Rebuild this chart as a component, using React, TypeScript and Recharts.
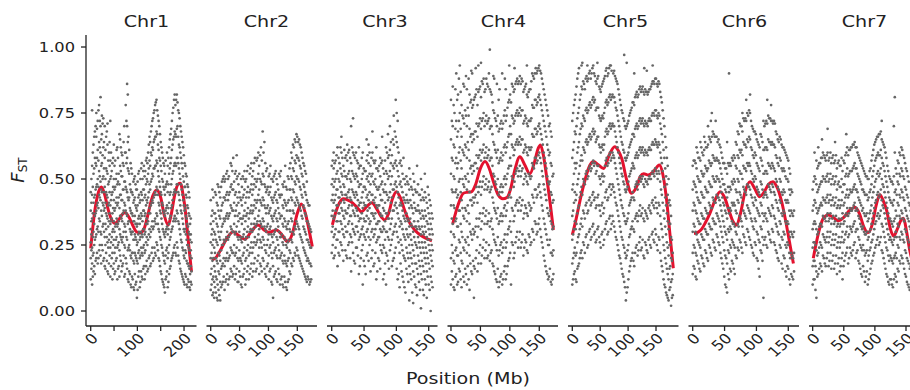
import React from 'react'
import { ComposedChart, Scatter, Line, XAxis, YAxis } from 'recharts'

// scatter columns: [position (Mb), FST values x100 ...]
const chr1Points = [
  [0, 12, 20, 26, 31, 38, 45], [3, 10, 18, 24, 35, 44, 55, 76], [6, 15, 22, 30, 41, 52, 63], [9, 14, 27, 36, 44, 58, 68],
  [12, 20, 29, 38, 47, 55, 66, 75], [15, 18, 32, 41, 50, 61, 72], [18, 23, 35, 44, 53, 64, 78], [21, 21, 30, 42, 49, 60, 70, 81],
  [24, 25, 36, 45, 56, 67, 74], [27, 19, 33, 40, 51, 62, 73], [30, 17, 28, 39, 47, 58, 70], [33, 22, 31, 37, 45, 54, 66],
  [36, 15, 26, 35, 43, 52, 63, 71], [39, 18, 27, 34, 41, 49, 60], [42, 13, 24, 33, 40, 50, 57, 72], [45, 20, 28, 35, 44, 53],
  [48, 16, 25, 31, 39, 47, 58], [51, 14, 22, 30, 38, 46, 55], [54, 19, 27, 33, 41, 50], [57, 12, 24, 32, 40, 48, 62],
  [60, 17, 26, 34, 43, 52], [63, 21, 29, 36, 44, 55, 65], [66, 15, 27, 35, 42, 51, 60], [69, 18, 28, 37, 46, 56],
  [72, 13, 25, 33, 41, 49, 70], [75, 20, 30, 38, 47, 60, 78], [78, 16, 27, 36, 45, 58, 70, 86], [81, 11, 24, 34, 42, 53, 66],
  [84, 14, 23, 31, 39, 48], [87, 9, 20, 29, 37, 45, 54], [90, 12, 22, 30, 36, 44], [93, 8, 18, 27, 34, 42, 50],
  [96, 10, 21, 28, 33, 40, 48], [99, 5, 19, 25, 32, 38, 46], [102, 13, 22, 29, 35, 43, 52], [105, 9, 20, 27, 33, 41],
  [108, 15, 24, 30, 37, 45, 54], [111, 12, 21, 28, 34, 42, 50], [114, 17, 25, 31, 38, 46, 55], [117, 14, 23, 30, 37, 44, 53],
  [120, 19, 28, 35, 42, 50, 58], [123, 16, 27, 34, 43, 52, 60], [126, 21, 31, 39, 48, 57, 66], [129, 18, 30, 40, 49, 60, 68],
  [132, 24, 34, 42, 52, 62, 72], [135, 20, 32, 43, 54, 64, 75], [138, 22, 35, 45, 55, 66, 78], [141, 26, 37, 47, 57, 68, 80],
  [144, 23, 33, 44, 53, 63, 74], [147, 19, 30, 40, 49, 58, 70], [150, 15, 27, 37, 45, 55, 64], [153, 12, 24, 33, 41, 50, 60],
  [156, 10, 21, 30, 38, 47, 56], [159, 7, 18, 28, 36, 44, 52], [162, 13, 23, 31, 39, 48], [165, 9, 20, 29, 37, 45, 55],
  [168, 14, 25, 33, 41, 52, 62], [171, 17, 28, 36, 45, 56, 67], [174, 20, 31, 40, 50, 61, 72], [177, 22, 34, 44, 53, 65, 77],
  [180, 25, 36, 46, 56, 68, 82], [183, 21, 35, 45, 55, 66, 80], [186, 24, 37, 48, 58, 70, 79], [189, 19, 33, 44, 54, 63, 75],
  [192, 16, 29, 40, 50, 60, 70], [195, 14, 26, 37, 46, 56, 66], [198, 12, 23, 33, 42, 51, 62], [201, 10, 20, 30, 38, 47, 56],
  [204, 13, 22, 29, 36, 44, 52], [207, 9, 18, 25, 33, 40, 48], [210, 11, 17, 24, 30, 37, 45], [213, 8, 14, 21, 27, 33],
  [216, 10, 15, 20, 26],
]
const chr1PointsB = [
  [1.5, 16, 23, 29, 34, 41, 50], [4.5, 13, 21, 28, 37, 47, 60], [7.5, 17, 25, 33, 43, 54, 66], [10.5, 19, 28, 37, 46, 56, 70],
  [13.5, 22, 31, 40, 48, 58, 69], [16.5, 20, 30, 39, 47, 57, 76], [19.5, 25, 34, 43, 51, 62, 72], [22.5, 18, 29, 38, 46, 55, 65],
  [25.5, 23, 32, 41, 50, 59, 71], [28.5, 20, 30, 38, 45, 54, 64], [31.5, 16, 25, 33, 41, 50, 61], [34.5, 19, 28, 36, 44, 53, 68],
  [37.5, 14, 24, 32, 40, 48, 57], [40.5, 21, 29, 37, 45, 55, 64], [43.5, 17, 26, 34, 42, 51, 60], [46.5, 12, 22, 30, 37, 45, 56],
  [49.5, 18, 27, 34, 42, 50, 63], [52.5, 15, 24, 32, 39, 47, 57], [55.5, 20, 28, 35, 43, 52, 61], [58.5, 16, 25, 33, 41, 49, 58],
  [61.5, 13, 23, 31, 39, 48, 67], [64.5, 19, 28, 36, 44, 53, 62], [67.5, 17, 26, 34, 42, 51, 59], [70.5, 21, 30, 38, 46, 55, 64],
  [73.5, 14, 24, 32, 40, 49, 60], [76.5, 18, 28, 37, 46, 56, 72], [79.5, 12, 23, 33, 43, 54, 64, 82], [82.5, 15, 25, 34, 43, 52, 61],
  [85.5, 10, 21, 30, 38, 46, 56], [88.5, 13, 22, 30, 37, 45, 52], [91.5, 9, 19, 27, 34, 41, 49], [94.5, 14, 22, 29, 36, 43, 51],
  [97.5, 11, 20, 27, 33, 39, 46], [100.5, 8, 18, 26, 33, 40, 49], [103.5, 15, 23, 30, 36, 44, 53], [106.5, 11, 21, 28, 35, 42, 50],
  [109.5, 13, 22, 29, 36, 44, 56], [112.5, 16, 24, 31, 38, 46, 53], [115.5, 12, 22, 29, 36, 43, 51], [118.5, 17, 26, 33, 40, 48, 57],
  [121.5, 15, 25, 33, 41, 49, 56], [124.5, 20, 29, 37, 45, 54, 63], [127.5, 17, 28, 37, 46, 55, 64], [130.5, 22, 32, 41, 50, 59, 70],
  [133.5, 19, 31, 41, 51, 61, 73], [136.5, 24, 34, 44, 54, 65, 76], [139.5, 21, 33, 44, 55, 66, 79], [142.5, 25, 36, 46, 56, 67, 76],
  [145.5, 20, 31, 41, 51, 61, 72], [148.5, 17, 28, 38, 47, 57, 67], [151.5, 14, 25, 35, 44, 53, 62], [154.5, 11, 22, 31, 40, 49, 58],
  [157.5, 9, 19, 29, 37, 46, 55], [160.5, 12, 21, 30, 38, 47, 57], [163.5, 15, 24, 32, 40, 49, 60], [166.5, 11, 22, 31, 39, 48, 58],
  [169.5, 16, 27, 35, 44, 54, 65], [172.5, 19, 30, 39, 48, 58, 69], [175.5, 21, 32, 42, 52, 63, 75], [178.5, 24, 35, 45, 55, 66, 80],
  [181.5, 22, 34, 45, 56, 67, 78], [184.5, 26, 38, 48, 58, 69, 82], [187.5, 21, 34, 45, 56, 66, 76], [190.5, 18, 31, 42, 52, 62, 73],
  [193.5, 15, 27, 38, 48, 58, 68], [196.5, 13, 24, 35, 44, 54, 64], [199.5, 11, 21, 31, 40, 49, 59], [202.5, 14, 23, 31, 39, 47, 55],
  [205.5, 10, 19, 27, 35, 43, 51], [208.5, 12, 18, 25, 32, 39, 47], [211.5, 9, 16, 23, 29, 36, 43], [214.5, 11, 17, 23, 29, 35],
]

const chr2Points = [
  [0, 8, 14, 20, 26, 33, 42], [3, 6, 12, 19, 25, 31, 38, 46], [6, 5, 11, 17, 24, 30, 37], [9, 7, 13, 20, 27, 35, 44],
  [12, 4, 10, 18, 25, 32, 40, 48], [15, 6, 14, 21, 28, 36, 45], [18, 9, 16, 23, 30, 38, 47], [21, 11, 18, 25, 33, 41, 50],
  [24, 8, 17, 26, 34, 43, 49], [27, 12, 20, 28, 36, 44, 52], [30, 10, 19, 27, 35, 42, 50], [33, 13, 21, 29, 37, 45],
  [36, 15, 23, 31, 39, 48, 55], [39, 14, 22, 30, 38, 46, 58], [42, 12, 21, 29, 36, 44, 52], [45, 16, 24, 32, 40, 50, 59],
  [48, 11, 19, 27, 34, 41, 48], [51, 13, 20, 28, 35, 43], [54, 9, 18, 26, 33, 40, 47], [57, 14, 22, 29, 36, 44, 50],
  [60, 10, 19, 27, 34, 41, 49], [63, 15, 23, 30, 37, 45, 53], [66, 12, 21, 28, 35, 43], [69, 16, 24, 31, 38, 46, 54],
  [72, 13, 22, 30, 37, 44, 51], [75, 18, 26, 33, 40, 48, 56], [78, 15, 25, 32, 39, 47], [81, 19, 27, 34, 42, 50, 58],
  [84, 14, 24, 31, 38, 46, 55], [87, 17, 26, 33, 41, 49, 62], [90, 20, 28, 35, 43, 52, 68], [93, 16, 25, 32, 40, 48, 64],
  [96, 13, 22, 30, 37, 45, 53], [99, 18, 27, 33, 40, 47], [102, 15, 24, 31, 38, 45, 52], [105, 11, 22, 29, 36, 43, 50],
  [108, 5, 17, 26, 34, 41, 49], [111, 14, 23, 30, 37, 44, 52], [114, 12, 21, 28, 35, 42, 50], [117, 16, 25, 32, 39, 46],
  [120, 10, 20, 28, 35, 43, 51], [123, 13, 22, 29, 36, 44], [126, 9, 18, 25, 32, 39, 47], [129, 11, 19, 27, 34, 41, 55],
  [132, 8, 17, 24, 31, 38, 46], [135, 12, 20, 27, 34, 42, 50], [138, 14, 22, 30, 38, 46, 56], [141, 17, 26, 34, 42, 50, 58],
  [144, 19, 29, 37, 45, 53, 62], [147, 21, 31, 40, 48, 56, 64], [150, 23, 33, 42, 50, 58, 66], [153, 20, 31, 40, 49, 57, 65],
  [156, 18, 28, 38, 46, 54, 62], [159, 16, 26, 35, 43, 51, 58], [162, 14, 23, 31, 39, 47, 55], [165, 12, 21, 29, 36, 44, 52],
  [168, 13, 20, 27, 34, 41], [171, 10, 18, 25, 32, 40], [174, 12, 17, 24, 30],
]
const chr2PointsB = [
  [1.5, 10, 16, 22, 29, 36], [4.5, 7, 13, 20, 27, 34, 43], [7.5, 9, 15, 22, 29, 37, 45], [10.5, 5, 12, 19, 26, 33, 41],
  [13.5, 8, 15, 22, 30, 38, 47], [16.5, 4, 11, 19, 27, 35, 43], [19.5, 10, 17, 25, 32, 40, 49], [22.5, 13, 20, 27, 35, 43, 51],
  [25.5, 11, 19, 27, 35, 42, 50], [28.5, 14, 22, 30, 37, 45, 53], [31.5, 12, 20, 28, 36, 44, 51], [34.5, 16, 24, 32, 40, 47, 56],
  [37.5, 13, 22, 30, 38, 46, 53], [40.5, 17, 25, 33, 41, 49], [43.5, 14, 22, 30, 38, 45, 53], [46.5, 11, 20, 28, 36, 43, 51],
  [49.5, 15, 23, 30, 37, 45, 52], [52.5, 10, 19, 27, 35, 42, 50], [55.5, 13, 21, 28, 35, 43, 51], [58.5, 16, 24, 31, 38, 46, 53],
  [61.5, 12, 20, 28, 36, 43, 50], [64.5, 17, 25, 32, 39, 47, 55], [67.5, 14, 22, 30, 37, 45, 52], [70.5, 18, 26, 33, 40, 48, 56],
  [73.5, 15, 24, 31, 38, 46, 53], [76.5, 20, 28, 35, 42, 50, 58], [79.5, 16, 26, 33, 41, 49, 57], [82.5, 21, 29, 36, 44, 52, 60],
  [85.5, 18, 27, 34, 42, 50, 59], [88.5, 15, 24, 32, 40, 48, 57], [91.5, 19, 27, 34, 42, 51, 60], [94.5, 14, 23, 31, 39, 47, 56],
  [97.5, 17, 25, 32, 39, 46, 54], [100.5, 12, 21, 29, 37, 44, 51], [103.5, 16, 25, 32, 39, 47, 55], [106.5, 10, 20, 28, 35, 42, 50],
  [109.5, 13, 22, 29, 36, 43, 51], [112.5, 15, 24, 31, 38, 45, 53], [115.5, 11, 20, 27, 34, 41, 48], [118.5, 14, 23, 30, 37, 44, 52],
  [121.5, 12, 21, 28, 36, 44, 53], [124.5, 10, 19, 26, 33, 40, 48], [127.5, 13, 21, 28, 35, 42, 49], [130.5, 9, 18, 25, 32, 40, 47],
  [133.5, 11, 19, 26, 33, 41, 51], [136.5, 15, 23, 31, 38, 46, 54], [139.5, 18, 27, 35, 43, 51, 60], [142.5, 20, 30, 38, 46, 54, 63],
  [145.5, 22, 32, 41, 49, 57, 65], [148.5, 24, 34, 43, 51, 59, 67], [151.5, 21, 32, 41, 50, 58, 64], [154.5, 19, 29, 39, 47, 55, 63],
  [157.5, 17, 27, 36, 44, 52, 60], [160.5, 15, 24, 32, 40, 48, 56], [163.5, 13, 22, 30, 37, 45, 53], [166.5, 11, 19, 27, 34, 42, 49],
  [169.5, 12, 19, 26, 33, 40], [172.5, 11, 18, 24, 31],
]

const chr3Points = [
  [0, 22, 30, 36, 42, 48, 55], [3, 20, 28, 35, 41, 47, 54, 60], [6, 24, 31, 38, 44, 50, 57], [9, 17, 27, 34, 40, 46, 53, 62],
  [12, 21, 30, 37, 43, 49, 56], [15, 25, 33, 39, 45, 52, 60, 66], [18, 19, 29, 36, 42, 48, 55], [21, 23, 32, 38, 44, 51, 58],
  [24, 20, 30, 37, 43, 50, 57, 63], [27, 26, 34, 40, 46, 53, 61], [30, 15, 28, 36, 42, 49, 56, 70], [33, 22, 31, 38, 45, 52, 60, 73],
  [36, 18, 29, 36, 43, 50, 58], [39, 24, 32, 38, 44, 51, 57], [42, 14, 27, 34, 40, 47, 54, 62], [45, 20, 29, 35, 41, 48, 55],
  [48, 10, 25, 32, 39, 45, 52, 60], [51, 17, 28, 34, 40, 47, 53], [54, 21, 30, 36, 43, 50, 57, 65], [57, 19, 28, 35, 42, 49, 56, 63],
  [60, 15, 27, 34, 41, 48, 55], [63, 23, 31, 37, 44, 52, 60, 68], [66, 18, 29, 35, 41, 48, 56], [69, 12, 26, 33, 40, 47, 54, 62],
  [72, 20, 28, 34, 40, 46, 53], [75, 16, 25, 31, 37, 44, 51, 58], [78, 22, 30, 36, 42, 49, 57, 66], [81, 14, 24, 31, 38, 45, 52],
  [84, 10, 22, 30, 37, 45, 53, 62], [87, 19, 28, 35, 42, 50, 58, 67], [90, 23, 31, 38, 45, 53, 61, 70], [93, 17, 27, 35, 43, 51, 59],
  [96, 20, 30, 38, 46, 54, 63, 74], [99, 24, 33, 41, 49, 57, 66, 80], [102, 12, 28, 37, 45, 53, 62, 72], [105, 9, 22, 32, 40, 48, 56],
  [108, 15, 25, 33, 40, 47, 55], [111, 11, 21, 29, 36, 43, 50, 58], [114, 7, 19, 27, 34, 41, 48], [117, 14, 22, 29, 35, 42, 49],
  [120, 4, 17, 25, 32, 39, 46, 54], [123, 12, 20, 27, 33, 40, 47], [126, 3, 15, 23, 30, 37, 44, 52], [129, 10, 18, 26, 32, 39, 46],
  [132, 6, 16, 24, 31, 38, 45, 55], [135, 11, 19, 26, 32, 38, 44], [138, 1, 14, 22, 29, 35, 42, 50], [141, 8, 17, 24, 30, 36, 43],
  [144, 12, 20, 26, 32, 38, 45, 52], [147, 5, 15, 22, 28, 34, 41], [150, 10, 18, 25, 31, 37, 44], [153, 0, 13, 21, 27, 33, 40],
  [156, 9, 17, 23, 29, 35],
]
const chr3PointsB = [
  [1.5, 25, 32, 38, 44, 50, 57], [4.5, 21, 29, 36, 42, 49, 56], [7.5, 27, 34, 40, 46, 52, 59], [10.5, 22, 30, 37, 43, 50, 58],
  [13.5, 26, 34, 41, 47, 54, 62], [16.5, 23, 31, 38, 44, 51, 58], [19.5, 28, 35, 41, 47, 53, 61], [22.5, 21, 30, 37, 44, 51, 59],
  [25.5, 25, 33, 39, 45, 52, 60], [28.5, 20, 29, 36, 43, 50, 58], [31.5, 26, 33, 40, 46, 53, 62], [34.5, 19, 30, 37, 44, 51, 59],
  [37.5, 24, 32, 39, 45, 52, 60], [40.5, 21, 30, 36, 42, 49, 56], [43.5, 17, 28, 35, 41, 48, 55], [46.5, 23, 31, 37, 43, 50, 58],
  [49.5, 19, 29, 35, 41, 47, 54], [52.5, 14, 27, 34, 40, 46, 53], [55.5, 22, 31, 38, 44, 51, 59], [58.5, 25, 33, 39, 45, 52, 60],
  [61.5, 20, 30, 37, 44, 51, 58], [64.5, 17, 28, 36, 42, 49, 57], [67.5, 22, 31, 37, 43, 50, 57], [70.5, 15, 27, 33, 39, 46, 54],
  [73.5, 19, 28, 34, 40, 47, 55], [76.5, 23, 30, 36, 42, 48, 56], [79.5, 12, 25, 32, 39, 46, 54], [82.5, 18, 27, 34, 41, 48, 57],
  [85.5, 21, 30, 37, 44, 52, 60], [88.5, 16, 27, 35, 43, 51, 59], [91.5, 25, 33, 41, 48, 56, 64], [94.5, 19, 29, 38, 46, 55, 65],
  [97.5, 22, 32, 40, 48, 56, 68], [100.5, 16, 30, 39, 47, 55, 64, 75], [103.5, 14, 26, 35, 43, 51, 60], [106.5, 18, 27, 34, 41, 49, 57],
  [109.5, 13, 23, 31, 38, 45, 52], [112.5, 9, 20, 28, 35, 42, 50], [115.5, 16, 24, 31, 37, 44, 51], [118.5, 11, 20, 28, 34, 41, 48],
  [121.5, 14, 22, 29, 35, 42, 50], [124.5, 7, 18, 25, 32, 39, 46], [127.5, 13, 21, 28, 34, 41, 49], [130.5, 9, 18, 25, 32, 38, 45],
  [133.5, 14, 21, 28, 34, 40, 48], [136.5, 8, 17, 24, 31, 37, 44], [139.5, 12, 19, 26, 32, 38, 46], [142.5, 6, 15, 22, 29, 35, 42],
  [145.5, 10, 18, 24, 30, 36, 43], [148.5, 13, 20, 27, 33, 39, 47], [151.5, 8, 16, 23, 29, 35, 42], [154.5, 11, 19, 25, 31, 37],
]

const chr4Points = [
  [0, 10, 20, 30, 40, 52, 65, 80], [3, 12, 22, 33, 45, 57, 70, 85], [6, 8, 18, 28, 39, 50, 62, 75], [9, 14, 24, 35, 46, 58, 72, 90],
  [12, 11, 21, 32, 44, 56, 68, 82], [15, 15, 26, 38, 50, 62, 75, 93], [18, 9, 19, 30, 42, 54, 66, 78], [21, 13, 24, 36, 48, 60, 73, 86],
  [24, 16, 27, 39, 51, 63, 76], [27, 10, 22, 34, 46, 58, 70, 84], [30, 12, 25, 37, 49, 61, 74, 88], [33, 18, 30, 42, 54, 66, 79],
  [36, 14, 27, 40, 52, 64, 77, 90], [39, 5, 17, 29, 41, 53, 65, 80], [42, 20, 32, 44, 56, 68, 82, 92], [45, 15, 28, 41, 54, 66, 78],
  [48, 22, 35, 47, 59, 71, 84], [51, 18, 31, 44, 57, 69, 81, 94], [54, 24, 37, 49, 61, 73, 86], [57, 20, 33, 46, 58, 70, 83],
  [60, 26, 38, 50, 62, 74, 88], [63, 21, 34, 47, 59, 72, 85], [66, 19, 32, 45, 57, 69, 84, 99], [69, 23, 35, 47, 58, 70, 82],
  [72, 17, 29, 41, 52, 64, 76, 89], [75, 14, 26, 38, 49, 61, 73], [78, 11, 23, 35, 46, 58, 70, 86], [81, 9, 21, 33, 44, 56, 68, 80],
  [84, 13, 25, 36, 47, 58, 71], [87, 10, 22, 34, 45, 57, 69, 90], [90, 15, 27, 39, 50, 62, 74], [93, 12, 24, 36, 48, 60, 72, 84],
  [96, 17, 29, 41, 52, 64, 77], [99, 20, 32, 44, 55, 67, 80, 93], [102, 10, 30, 43, 55, 67, 79], [105, 25, 38, 50, 62, 73, 85],
  [108, 22, 36, 49, 61, 72, 84, 92], [111, 28, 41, 53, 64, 75, 87], [114, 24, 38, 51, 63, 74, 86], [117, 30, 43, 55, 66, 77, 89],
  [120, 26, 40, 53, 65, 76, 88], [123, 21, 35, 48, 60, 71, 83], [126, 27, 40, 52, 63, 74, 85], [129, 23, 37, 49, 60, 71, 82, 93],
  [132, 29, 41, 52, 62, 72, 83], [135, 25, 38, 50, 61, 72, 84], [138, 31, 44, 56, 67, 78, 90], [141, 27, 41, 54, 66, 77, 88],
  [144, 33, 46, 58, 69, 80, 92], [147, 30, 44, 57, 68, 79, 91], [150, 35, 48, 60, 71, 82, 93], [153, 28, 43, 56, 67, 78, 90],
  [156, 24, 38, 51, 63, 74, 86], [159, 19, 33, 46, 58, 70, 82], [162, 15, 29, 42, 54, 66, 78], [165, 12, 25, 37, 49, 61, 74],
  [168, 16, 27, 38, 49, 60, 71], [171, 10, 22, 33, 44, 55, 66], [174, 14, 23, 32, 42, 52],
]
const chr4PointsB = [
  [1.5, 15, 25, 35, 46, 58, 72], [4.5, 9, 19, 29, 40, 51, 63, 78], [7.5, 13, 23, 34, 45, 56, 69, 84], [10.5, 10, 21, 32, 43, 54, 66, 80],
  [13.5, 16, 27, 38, 49, 60, 72, 88], [16.5, 12, 22, 33, 45, 57, 69, 83], [19.5, 18, 28, 39, 50, 61, 74], [22.5, 11, 23, 35, 47, 59, 71, 85],
  [25.5, 14, 26, 38, 50, 62, 74, 89], [28.5, 17, 28, 40, 52, 64, 77], [31.5, 8, 21, 33, 45, 57, 69, 82], [34.5, 15, 29, 42, 55, 67, 80, 91],
  [37.5, 19, 31, 43, 55, 67, 78], [40.5, 16, 30, 43, 56, 68, 81], [43.5, 23, 35, 47, 59, 71, 84], [46.5, 18, 32, 45, 58, 70, 83, 93],
  [49.5, 25, 37, 49, 61, 73, 85], [52.5, 21, 34, 47, 60, 72, 87], [55.5, 27, 39, 51, 63, 75, 88], [58.5, 23, 36, 48, 60, 72, 84],
  [61.5, 20, 33, 46, 58, 71, 86], [64.5, 25, 37, 49, 61, 73, 90], [67.5, 22, 34, 46, 58, 70, 83], [70.5, 18, 31, 43, 55, 67, 79],
  [73.5, 15, 27, 39, 51, 63, 75, 88], [76.5, 12, 25, 37, 48, 60, 72], [79.5, 16, 28, 39, 50, 61, 74], [82.5, 11, 23, 34, 45, 57, 69, 84],
  [85.5, 14, 26, 37, 48, 60, 72], [88.5, 12, 24, 36, 47, 59, 71], [91.5, 17, 29, 40, 51, 63, 76, 88], [94.5, 14, 26, 38, 50, 62, 74],
  [97.5, 19, 31, 43, 54, 66, 79], [100.5, 22, 34, 46, 58, 70, 82], [103.5, 26, 39, 51, 63, 74, 86], [106.5, 20, 34, 47, 59, 71, 83],
  [109.5, 26, 40, 52, 63, 74, 86], [112.5, 30, 42, 54, 65, 76, 88], [115.5, 27, 41, 53, 64, 75, 87], [118.5, 24, 38, 51, 63, 74, 86],
  [121.5, 29, 42, 54, 65, 76, 87], [124.5, 24, 37, 50, 61, 72, 84], [127.5, 26, 39, 51, 62, 73, 86], [130.5, 22, 36, 48, 59, 70, 81],
  [133.5, 28, 40, 51, 61, 72, 84], [136.5, 26, 39, 51, 62, 73, 87], [139.5, 30, 43, 55, 66, 77, 89], [142.5, 34, 46, 58, 69, 80, 90],
  [145.5, 29, 43, 56, 67, 78, 90], [148.5, 33, 47, 59, 70, 81, 92], [151.5, 31, 45, 58, 69, 80, 91], [154.5, 26, 40, 53, 65, 76, 88],
  [157.5, 21, 35, 48, 60, 72, 84], [160.5, 17, 31, 44, 56, 68, 80], [163.5, 14, 27, 39, 51, 63, 76], [166.5, 13, 25, 36, 48, 59, 70],
  [169.5, 11, 22, 34, 45, 56, 68], [172.5, 12, 21, 31, 41, 51],
]

const chr5Points = [
  [0, 10, 18, 27, 36, 46, 58, 72], [3, 14, 22, 31, 41, 52, 64, 78], [6, 12, 21, 31, 42, 54, 67, 82], [9, 16, 26, 37, 48, 60, 73, 88],
  [12, 18, 29, 40, 52, 64, 77, 92], [15, 22, 33, 45, 57, 69, 82], [18, 20, 32, 44, 57, 70, 84, 94], [21, 25, 37, 49, 61, 73, 86],
  [24, 28, 40, 52, 64, 76, 88], [27, 24, 37, 50, 63, 75, 87, 93], [30, 30, 42, 54, 66, 78, 90], [33, 27, 40, 53, 65, 77, 88],
  [36, 32, 44, 56, 68, 80, 92], [39, 29, 42, 55, 67, 79, 90], [42, 26, 39, 52, 64, 76, 87], [45, 31, 43, 55, 66, 77, 88, 94],
  [48, 28, 40, 51, 63, 74, 85], [51, 24, 36, 48, 60, 72, 83], [54, 30, 41, 52, 63, 74, 86], [57, 27, 39, 51, 63, 75, 88],
  [60, 33, 45, 57, 68, 79, 91], [63, 29, 42, 55, 67, 78, 89], [66, 35, 47, 59, 70, 81, 92], [69, 31, 44, 57, 69, 80, 93],
  [72, 36, 48, 60, 71, 82], [75, 32, 45, 58, 70, 81, 91], [78, 28, 41, 54, 66, 77, 88], [81, 25, 38, 50, 62, 74, 86],
  [84, 21, 34, 46, 58, 70, 82], [87, 18, 30, 42, 54, 66, 78], [90, 14, 27, 39, 51, 63, 75], [93, 11, 24, 36, 48, 60, 72, 97],
  [96, 4, 20, 33, 45, 57, 69], [99, 9, 23, 35, 47, 59, 71], [102, 15, 28, 40, 51, 62, 74], [105, 19, 31, 42, 53, 64, 76],
  [108, 22, 34, 45, 56, 67, 79], [111, 17, 30, 42, 54, 66, 78, 90], [114, 24, 36, 48, 59, 70, 82], [117, 21, 34, 46, 58, 69, 81],
  [120, 26, 38, 50, 61, 72, 84], [123, 23, 36, 49, 60, 71, 83], [126, 27, 39, 51, 62, 73, 85], [129, 20, 34, 47, 59, 70, 82, 92],
  [132, 25, 37, 49, 60, 71, 83], [135, 22, 35, 48, 59, 70, 82], [138, 28, 40, 51, 62, 73, 84], [141, 24, 37, 50, 61, 72, 85],
  [144, 30, 42, 53, 64, 75, 87, 93], [147, 26, 39, 51, 63, 74, 86], [150, 29, 41, 53, 64, 76, 88], [153, 23, 37, 50, 62, 73, 85],
  [156, 27, 40, 52, 63, 74, 86], [159, 19, 33, 46, 58, 69, 81], [162, 15, 28, 41, 53, 64, 76], [165, 10, 23, 35, 47, 58, 70],
  [168, 7, 18, 29, 40, 51, 62], [171, 5, 14, 24, 34, 44, 55], [174, 8, 16, 25, 33, 42], [177, 2, 11, 20, 28, 36],
  [180, 6, 14, 22],
]
const chr5PointsB = [
  [1.5, 12, 20, 29, 38, 48, 61, 75], [4.5, 15, 24, 34, 45, 56, 68, 80], [7.5, 11, 22, 33, 44, 56, 70, 85], [10.5, 17, 28, 39, 50, 62, 75, 90],
  [13.5, 20, 31, 43, 55, 67, 80], [16.5, 23, 35, 47, 59, 71, 85, 93], [19.5, 26, 38, 50, 62, 74, 87], [22.5, 22, 35, 48, 60, 72, 84],
  [25.5, 29, 41, 53, 65, 77, 89], [28.5, 25, 38, 51, 64, 76, 88], [31.5, 31, 43, 55, 67, 79, 91], [34.5, 28, 41, 54, 66, 78, 90],
  [37.5, 33, 45, 57, 69, 81, 93], [40.5, 30, 43, 56, 68, 80, 89], [43.5, 27, 40, 53, 65, 77, 86], [46.5, 32, 44, 55, 66, 77, 89],
  [49.5, 26, 38, 50, 62, 73, 84], [52.5, 29, 40, 51, 62, 73, 85], [55.5, 25, 37, 49, 61, 73, 87], [58.5, 31, 43, 55, 66, 77, 89],
  [61.5, 34, 46, 58, 69, 80, 92], [64.5, 30, 43, 56, 68, 79, 90], [67.5, 36, 48, 60, 71, 82, 93], [70.5, 33, 46, 58, 70, 81, 91],
  [73.5, 34, 47, 59, 70, 81, 90], [76.5, 30, 43, 56, 68, 79, 89], [79.5, 27, 40, 52, 64, 76, 87], [82.5, 23, 36, 48, 60, 72, 84],
  [85.5, 20, 32, 44, 56, 68, 80], [88.5, 16, 28, 40, 52, 64, 76], [91.5, 13, 25, 37, 49, 61, 73], [94.5, 9, 22, 34, 46, 58, 70],
  [97.5, 7, 21, 34, 46, 58, 70, 94], [100.5, 12, 25, 37, 49, 60, 72], [103.5, 17, 29, 41, 52, 63, 75], [106.5, 20, 32, 43, 54, 65, 77],
  [109.5, 19, 31, 43, 55, 67, 79], [112.5, 22, 35, 47, 58, 69, 81], [115.5, 25, 37, 49, 60, 71, 83], [118.5, 23, 36, 48, 59, 70, 82],
  [121.5, 28, 40, 51, 62, 73, 85], [124.5, 24, 37, 50, 61, 72, 84], [127.5, 21, 35, 48, 60, 71, 83], [130.5, 26, 38, 50, 61, 72, 84],
  [133.5, 23, 36, 49, 60, 71, 83, 91], [136.5, 27, 39, 50, 61, 72, 83], [139.5, 25, 38, 50, 61, 72, 84], [142.5, 29, 41, 52, 63, 74, 86],
  [145.5, 27, 40, 52, 63, 75, 87], [148.5, 31, 43, 54, 65, 76, 88], [151.5, 25, 39, 52, 63, 74, 86], [154.5, 28, 41, 53, 64, 75, 87],
  [157.5, 22, 36, 49, 60, 71, 83], [160.5, 17, 31, 44, 56, 67, 79], [163.5, 12, 25, 38, 50, 61, 73], [166.5, 9, 20, 32, 43, 54, 66],
  [169.5, 6, 16, 26, 37, 48, 58], [172.5, 4, 12, 21, 31, 41, 50], [175.5, 9, 17, 25, 33, 40], [178.5, 5, 12, 19, 27],
]

const chr6Points = [
  [0, 14, 22, 30, 38, 46, 55], [3, 16, 24, 32, 40, 48, 57], [6, 12, 21, 29, 37, 45, 54, 62], [9, 18, 26, 34, 42, 50, 58],
  [12, 15, 24, 33, 41, 49, 57, 64], [15, 20, 28, 36, 44, 52, 60], [18, 17, 27, 35, 43, 52, 61, 66], [21, 22, 30, 38, 46, 54, 62],
  [24, 19, 29, 37, 45, 54, 63, 70], [27, 24, 32, 40, 48, 56, 65], [30, 21, 31, 39, 47, 56, 66, 75], [33, 26, 34, 42, 50, 58, 67],
  [36, 23, 33, 41, 49, 57, 66, 72], [39, 28, 36, 43, 50, 57, 64], [42, 25, 34, 42, 49, 56, 63], [45, 20, 30, 38, 45, 52, 60],
  [48, 16, 26, 34, 41, 48, 56], [51, 10, 21, 30, 38, 46, 54], [54, 7, 18, 27, 35, 43, 52, 64], [57, 12, 22, 30, 37, 45, 55, 90],
  [60, 15, 24, 31, 38, 46, 55], [63, 18, 26, 33, 40, 48, 57], [66, 14, 24, 32, 40, 49, 58], [69, 20, 29, 37, 45, 54, 63],
  [72, 23, 32, 41, 49, 58, 67], [75, 26, 35, 44, 52, 60, 70], [78, 22, 32, 41, 50, 59, 68, 75], [81, 28, 37, 46, 54, 63, 72],
  [84, 25, 35, 44, 53, 62, 72, 80], [87, 30, 39, 47, 55, 64, 74], [90, 27, 37, 46, 55, 65, 75, 82], [93, 24, 34, 43, 52, 61, 70],
  [96, 21, 31, 40, 49, 58, 68], [99, 25, 34, 42, 50, 59, 67], [102, 19, 29, 38, 46, 55, 64], [105, 13, 26, 36, 44, 53, 62],
  [108, 22, 31, 40, 48, 57, 66], [111, 5, 25, 34, 43, 52, 61, 72], [114, 28, 37, 45, 53, 62, 71], [117, 24, 34, 43, 52, 61, 71, 80],
  [120, 29, 38, 47, 55, 64, 73], [123, 26, 36, 45, 54, 63, 72, 78], [126, 30, 39, 47, 55, 63, 71], [129, 25, 35, 44, 53, 62, 71],
  [132, 22, 32, 41, 49, 58, 67], [135, 19, 29, 38, 46, 55, 64], [138, 24, 33, 41, 49, 57, 65], [141, 16, 27, 36, 44, 53, 62],
  [144, 20, 29, 37, 45, 53, 61], [147, 13, 24, 33, 41, 50, 59], [150, 16, 25, 33, 41, 49, 57], [153, 10, 20, 28, 36, 44, 52],
  [156, 13, 21, 29, 37, 45], [159, 15, 22, 30, 38],
]
const chr6PointsB = [
  [1.5, 17, 25, 33, 41, 49, 57], [4.5, 13, 22, 30, 38, 47, 56], [7.5, 19, 27, 35, 43, 51, 60], [10.5, 16, 25, 33, 41, 49, 58],
  [13.5, 21, 29, 37, 45, 53, 62], [16.5, 18, 27, 35, 43, 51, 59], [19.5, 23, 31, 39, 47, 55, 64], [22.5, 20, 29, 37, 45, 53, 62],
  [25.5, 25, 33, 41, 49, 57, 66], [28.5, 22, 31, 39, 47, 55, 64, 72], [31.5, 27, 35, 43, 51, 59, 68], [34.5, 24, 33, 41, 49, 57, 66],
  [37.5, 29, 37, 44, 51, 58, 66], [40.5, 26, 35, 43, 50, 57, 65], [43.5, 22, 32, 40, 47, 54, 62], [46.5, 18, 28, 36, 43, 50, 58],
  [49.5, 13, 23, 32, 40, 48, 56], [52.5, 9, 20, 29, 37, 45, 54], [55.5, 14, 23, 31, 39, 47, 56], [58.5, 16, 25, 32, 39, 47, 56],
  [61.5, 19, 27, 34, 41, 49, 58], [64.5, 16, 25, 33, 41, 50, 59], [67.5, 21, 30, 38, 46, 55, 64], [70.5, 24, 33, 42, 50, 59, 68],
  [73.5, 27, 36, 45, 53, 61, 71], [76.5, 24, 34, 43, 52, 61, 70], [79.5, 29, 38, 47, 55, 64, 73], [82.5, 26, 36, 45, 54, 63, 73],
  [85.5, 31, 40, 48, 56, 65, 75], [88.5, 28, 38, 47, 56, 66, 76], [91.5, 25, 35, 44, 53, 62, 72], [94.5, 22, 32, 41, 50, 59, 69],
  [97.5, 26, 35, 43, 51, 60, 68], [100.5, 20, 30, 39, 47, 56, 65], [103.5, 16, 27, 37, 45, 54, 63], [106.5, 23, 32, 41, 49, 58, 67],
  [109.5, 19, 28, 37, 46, 55, 64], [112.5, 27, 36, 44, 52, 61, 70], [115.5, 25, 35, 44, 53, 62, 72], [118.5, 30, 39, 48, 56, 65, 74],
  [121.5, 27, 37, 46, 55, 64, 73], [124.5, 31, 40, 48, 56, 64, 72], [127.5, 26, 36, 45, 54, 63, 72], [130.5, 23, 33, 42, 50, 59, 68],
  [133.5, 20, 30, 39, 47, 56, 65], [136.5, 25, 34, 42, 50, 58, 66], [139.5, 18, 28, 37, 45, 54, 63], [142.5, 21, 30, 38, 46, 54, 62],
  [145.5, 15, 25, 34, 42, 51, 60], [148.5, 17, 26, 34, 42, 50, 58], [151.5, 12, 22, 30, 38, 46, 54], [154.5, 14, 22, 30, 38, 46],
  [157.5, 12, 20, 28, 36],
]

const chr7Points = [
  [0, 10, 17, 24, 31, 38, 46], [3, 12, 19, 26, 34, 42, 51, 60], [6, 5, 15, 23, 31, 39, 48, 57], [9, 14, 22, 30, 38, 46, 55, 62],
  [12, 18, 26, 33, 40, 48, 56], [15, 15, 24, 32, 40, 49, 58, 65], [18, 20, 28, 35, 42, 50, 59], [21, 17, 26, 34, 41, 49, 57],
  [24, 22, 30, 37, 44, 52, 60, 69], [27, 19, 28, 35, 42, 50, 58], [30, 16, 25, 33, 40, 48, 56], [33, 21, 29, 36, 43, 51, 59],
  [36, 18, 27, 34, 41, 49, 57, 64], [39, 14, 24, 32, 39, 46, 54], [42, 20, 28, 35, 42, 49, 57], [45, 17, 26, 33, 40, 47, 55],
  [48, 12, 22, 30, 37, 45, 53], [51, 19, 27, 34, 41, 48, 56], [54, 22, 30, 37, 44, 52, 60, 67], [57, 18, 28, 36, 43, 51, 59],
  [60, 24, 32, 39, 46, 53, 61], [63, 21, 30, 38, 45, 53, 62], [66, 25, 33, 40, 47, 55, 63], [69, 20, 30, 38, 46, 54, 62],
  [72, 23, 31, 38, 45, 52, 60], [75, 18, 27, 35, 42, 50, 58], [78, 14, 24, 32, 40, 48, 56], [81, 17, 25, 32, 39, 46, 54],
  [84, 11, 21, 29, 36, 44, 52], [87, 15, 23, 30, 37, 44, 51], [90, 12, 21, 28, 35, 43, 50], [93, 16, 24, 31, 38, 46, 54],
  [96, 19, 27, 35, 43, 51, 59], [99, 22, 31, 39, 47, 55, 63], [102, 25, 34, 42, 50, 58, 65], [105, 28, 37, 45, 53, 60, 66],
  [108, 26, 36, 44, 52, 59, 67], [111, 23, 33, 42, 50, 58, 65, 72], [114, 20, 30, 39, 47, 55, 63], [117, 16, 26, 35, 43, 51, 60],
  [120, 13, 23, 31, 39, 47, 55], [123, 10, 19, 27, 35, 43, 51], [126, 12, 20, 27, 34, 41, 49], [129, 9, 18, 25, 32, 40, 48],
  [132, 14, 21, 28, 35, 45, 60, 81], [135, 11, 20, 28, 36, 44, 52], [138, 15, 24, 32, 40, 48, 56], [141, 18, 27, 35, 43, 51, 59],
  [144, 20, 29, 37, 45, 53, 61], [147, 16, 26, 34, 42, 50, 58], [150, 13, 22, 30, 38, 46, 54], [153, 10, 19, 27, 35, 43, 51],
  [156, 8, 16, 24, 32, 40], [159, 11, 18, 25, 33], [162, 9, 15, 22, 30],
]
const chr7PointsB = [
  [1.5, 12, 19, 26, 33, 40, 49], [4.5, 8, 17, 25, 33, 41, 50], [7.5, 13, 21, 29, 37, 45, 54], [10.5, 16, 24, 32, 39, 47, 56],
  [13.5, 17, 25, 33, 41, 49, 58], [16.5, 21, 29, 36, 43, 51, 60], [19.5, 18, 27, 35, 42, 50, 58], [22.5, 20, 28, 36, 43, 51, 59],
  [25.5, 17, 26, 34, 41, 49, 57], [28.5, 22, 30, 37, 44, 52, 60], [31.5, 19, 27, 35, 42, 50, 58], [34.5, 16, 25, 33, 40, 48, 56],
  [37.5, 21, 29, 36, 43, 51, 59], [40.5, 18, 26, 33, 40, 48, 56], [43.5, 15, 24, 32, 39, 47, 55], [46.5, 20, 28, 35, 42, 50, 58],
  [49.5, 17, 26, 33, 40, 48, 57], [52.5, 21, 29, 36, 43, 51, 59], [55.5, 24, 32, 39, 46, 54, 62], [58.5, 20, 29, 37, 44, 52, 61],
  [61.5, 22, 31, 38, 45, 53, 62], [64.5, 23, 32, 39, 46, 54, 63], [67.5, 26, 34, 41, 48, 56, 64], [70.5, 22, 31, 39, 46, 54, 62],
  [73.5, 19, 28, 36, 43, 51, 59], [76.5, 16, 25, 33, 41, 49, 57], [79.5, 13, 23, 31, 38, 46, 55], [82.5, 15, 23, 30, 37, 45, 53],
  [85.5, 13, 22, 29, 36, 44, 51], [88.5, 10, 19, 27, 34, 42, 50], [91.5, 14, 23, 30, 37, 45, 53], [94.5, 18, 26, 33, 40, 48, 57],
  [97.5, 21, 29, 37, 45, 53, 61], [100.5, 24, 33, 41, 49, 57, 64], [103.5, 27, 36, 44, 52, 59, 66], [106.5, 25, 35, 43, 51, 59, 67],
  [109.5, 28, 38, 46, 54, 61, 68], [112.5, 22, 32, 40, 48, 56, 64], [115.5, 18, 28, 37, 45, 53, 62], [118.5, 14, 24, 33, 41, 49, 58],
  [121.5, 11, 21, 29, 37, 45, 53], [124.5, 12, 21, 28, 35, 42, 50], [127.5, 10, 19, 26, 33, 41, 49], [130.5, 12, 20, 27, 34, 42, 51, 70],
  [133.5, 13, 22, 30, 38, 46, 54], [136.5, 16, 25, 33, 41, 49, 57], [139.5, 19, 28, 36, 44, 52, 60], [142.5, 21, 30, 38, 46, 54, 62],
  [145.5, 18, 27, 35, 43, 51, 59], [148.5, 14, 23, 31, 39, 47, 56], [151.5, 11, 20, 28, 36, 44, 53], [154.5, 9, 18, 26, 34, 41, 49],
  [157.5, 10, 17, 24, 31, 38], [160.5, 8, 14, 21, 28],
]

// smoothed FST trend: [position (Mb), FST]
const chr1Smooth = [
  [0, 0.237], [8, 0.37], [15, 0.44], [23, 0.47], [30, 0.44], [38, 0.38], [45, 0.345], [52, 0.332], [60, 0.345], [67, 0.365],
  [74, 0.372], [82, 0.355], [90, 0.325], [98, 0.30], [106, 0.297], [114, 0.31], [122, 0.36], [130, 0.42], [141, 0.458],
  [150, 0.43], [158, 0.36], [166, 0.326], [173, 0.37], [180, 0.44], [187, 0.48], [192, 0.484], [198, 0.44], [204, 0.36],
  [210, 0.25], [216, 0.149],
]
const chr2Smooth = [
  [2, 0.193], [10, 0.205], [18, 0.235], [28, 0.275], [39, 0.30], [49, 0.285], [59, 0.272], [70, 0.30], [82, 0.326], [91, 0.31],
  [100, 0.298], [108, 0.303], [114, 0.307], [123, 0.29], [133, 0.263], [141, 0.29], [150, 0.37], [157, 0.405], [164, 0.37],
  [170, 0.31], [176, 0.244],
]
const chr3Smooth = [
  [1, 0.326], [7, 0.38], [12, 0.41], [18, 0.425], [25, 0.42], [33, 0.408], [40, 0.39], [46, 0.376], [54, 0.395], [62, 0.41],
  [70, 0.385], [77, 0.355], [82, 0.345], [88, 0.37], [94, 0.425], [100, 0.452], [106, 0.43], [113, 0.38], [121, 0.332],
  [129, 0.305], [137, 0.288], [146, 0.275], [155, 0.266],
]
const chr4Smooth = [
  [3, 0.33], [9, 0.38], [15, 0.42], [21, 0.446], [28, 0.45], [35, 0.452], [42, 0.48], [50, 0.54], [58, 0.566], [65, 0.54],
  [72, 0.49], [80, 0.44], [88, 0.425], [95, 0.43], [101, 0.46], [108, 0.53], [117, 0.584], [125, 0.555], [134, 0.52],
  [142, 0.565], [148, 0.615], [152, 0.629], [157, 0.59], [163, 0.50], [169, 0.40], [174, 0.307],
]
const chr5Smooth = [
  [0, 0.288], [7, 0.35], [14, 0.42], [22, 0.49], [30, 0.545], [38, 0.566], [46, 0.555], [56, 0.54], [66, 0.59], [76, 0.622],
  [83, 0.605], [89, 0.575], [97, 0.50], [106, 0.446], [115, 0.47], [122, 0.51], [128, 0.52], [136, 0.515], [146, 0.53],
  [156, 0.553], [162, 0.52], [169, 0.42], [175, 0.29], [181, 0.162],
]
const chr6Smooth = [
  [2, 0.294], [8, 0.298], [14, 0.31], [20, 0.335], [27, 0.37], [35, 0.42], [43, 0.452], [50, 0.43], [57, 0.38], [63, 0.34],
  [69, 0.326], [75, 0.37], [82, 0.45], [90, 0.49], [97, 0.465], [105, 0.433], [112, 0.45], [119, 0.48], [126, 0.49],
  [133, 0.465], [140, 0.41], [146, 0.34], [152, 0.26], [158, 0.18],
]
const chr7Smooth = [
  [1, 0.20], [6, 0.26], [11, 0.31], [17, 0.351], [25, 0.364], [33, 0.355], [41, 0.342], [50, 0.355], [59, 0.38], [68, 0.393],
  [75, 0.37], [82, 0.32], [89, 0.297], [96, 0.33], [102, 0.40], [108, 0.44], [113, 0.42], [119, 0.38], [125, 0.31],
  [130, 0.284], [136, 0.31], [141, 0.34], [146, 0.351], [151, 0.30], [156, 0.23], [160, 0.19],
]

const chr1Ticks = [0, 50, 100, 150, 200]
const chr1Labels = [0, 100, 200]
const otherTicks = [0, 50, 100, 150]
const yTicks = [0, 0.25, 0.5, 0.75, 1]

const FONT = '"DejaVu Sans", Verdana, sans-serif'
const STRETCH = 1.16
const INK = '#222222'
const DOT = '#666666'
const RED = '#e3122e'
const PLOT_TOP = 35
const PLOT_BOTTOM = 326
const PLOT_W = 110.5
const X_AXIS_H = 50
const Y_DOMAIN = [-0.0568, 1.0455]

const panels = [
  { name: 'Chr1', points: [...chr1Points, ...chr1PointsB], smooth: chr1Smooth, ticks: chr1Ticks, labels: chr1Labels, left: 86, domain: [-10.1, 226.7], stripX: 146.5 },
  { name: 'Chr2', points: [...chr2Points, ...chr2PointsB], smooth: chr2Smooth, ticks: otherTicks, labels: otherTicks, left: 206.5, domain: [-7.3, 184.1], stripX: 266.5 },
  { name: 'Chr3', points: [...chr3Points, ...chr3PointsB], smooth: chr3Smooth, ticks: otherTicks, labels: otherTicks, left: 327, domain: [-7.3, 163.6], stripX: 385 },
  { name: 'Chr4', points: [...chr4Points, ...chr4PointsB], smooth: chr4Smooth, ticks: otherTicks, labels: otherTicks, left: 447.5, domain: [-5.9, 181.8], stripX: 503.5 },
  { name: 'Chr5', points: [...chr5Points, ...chr5PointsB], smooth: chr5Smooth, ticks: otherTicks, labels: otherTicks, left: 568, domain: [-7.7, 190.3], stripX: 625.5 },
  { name: 'Chr6', points: [...chr6Points, ...chr6PointsB], smooth: chr6Smooth, ticks: otherTicks, labels: otherTicks, left: 688.5, domain: [-6.6, 166.8], stripX: 744.5 },
  { name: 'Chr7', points: [...chr7Points, ...chr7PointsB], smooth: chr7Smooth, ticks: otherTicks, labels: otherTicks, left: 809, domain: [-5.9, 171.7], stripX: 864.5 },
]

const toXY = (cols: number[][]) =>
  cols.flatMap(([pos, ...vals]) => vals.map((v) => ({ x: pos, y: v / 100 })))

const Dot = (props: any) => <circle cx={props.cx} cy={props.cy} r={1.35} fill={DOT} />

const XTick = ({ x, y, payload, labels }: any) => {
  if (!labels.includes(payload.value)) return <g />
  return (
    <text
      transform={`translate(${x},${y - 1}) scale(${STRETCH},1) rotate(-45)`}
      textAnchor="end"
      dy="0.72em"
      fontSize={14}
      fontFamily={FONT}
      fill={INK}
    >
      {payload.value}
    </text>
  )
}

const YTick = ({ x, y, payload }: any) => (
  <text
    transform={`translate(${x},${y}) scale(${STRETCH},1)`}
    textAnchor="end"
    dy="0.36em"
    fontSize={14}
    fontFamily={FONT}
    fill={INK}
  >
    {Number(payload.value).toFixed(2)}
  </text>
)

function Panel({ p, first }: { p: (typeof panels)[number]; first: boolean }) {
  const chartLeft = first ? 0 : Math.floor(p.left) - 30
  const yAxisW = first ? 60 : 0
  const width = Math.ceil(p.left - chartLeft + PLOT_W + 8)
  const mLeft = p.left - chartLeft - yAxisW
  const mRight = width - (p.left - chartLeft) - PLOT_W
  const axisStyle = { stroke: INK, strokeWidth: 1.3 }

  return (
    <div style={{ position: 'absolute', left: chartLeft, top: 0 }}>
      <ComposedChart
        width={width}
        height={390}
        margin={{ top: PLOT_TOP, right: mRight, bottom: 390 - PLOT_BOTTOM - X_AXIS_H, left: mLeft }}
      >
        <XAxis
          type="number"
          dataKey="x"
          domain={p.domain}
          allowDataOverflow
          ticks={p.ticks}
          interval={0}
          height={X_AXIS_H}
          tickSize={5}
          tickMargin={2}
          axisLine={axisStyle}
          tickLine={axisStyle}
          tick={(props: any) => <XTick {...props} labels={p.labels} />}
        />
        <YAxis
          type="number"
          dataKey="y"
          domain={Y_DOMAIN}
          allowDataOverflow
          ticks={yTicks}
          interval={0}
          hide={!first}
          width={yAxisW || 60}
          tickSize={5}
          tickMargin={6}
          axisLine={axisStyle}
          tickLine={axisStyle}
          tick={<YTick />}
        />
        <Scatter data={toXY(p.points)} dataKey="y" shape={Dot} isAnimationActive={false} />
        <Line
          data={p.smooth.map(([x, y]) => ({ x, y }))}
          dataKey="y"
          type="monotone"
          stroke={RED}
          strokeWidth={3}
          dot={false}
          activeDot={false}
          isAnimationActive={false}
        />
      </ComposedChart>
    </div>
  )
}

export default function App() {
  return (
    <div
      style={{
        position: 'absolute',
        left: 0,
        top: 0,
        width: 910,
        height: 390,
        overflow: 'hidden',
        background: '#fff',
        fontFamily: FONT,
      }}
    >
      {panels.map((p, i) => (
        <Panel key={p.name} p={p} first={i === 0} />
      ))}
      <svg width={910} height={390} style={{ position: 'absolute', left: 0, top: 0, pointerEvents: 'none' }}>
        {panels.map((p) => (
          <text
            key={p.name}
            transform={`translate(${p.stripX},27) scale(${STRETCH},1)`}
            textAnchor="middle"
            fontSize={16.5}
            fontFamily={FONT}
            fill={INK}
          >
            {p.name}
          </text>
        ))}
        <text transform="translate(468,384) scale(1.16,1)" textAnchor="middle" fontSize={16.5} fontFamily={FONT} fill={INK}>
          Position (Mb)
        </text>
        <text transform="translate(24,170) rotate(-90)" textAnchor="middle" fontSize={18} fontFamily={FONT} fill={INK}>
          <tspan fontStyle="italic">F</tspan>
          <tspan fontSize={12} dy={3}>ST</tspan>
        </text>
      </svg>
    </div>
  )
}
